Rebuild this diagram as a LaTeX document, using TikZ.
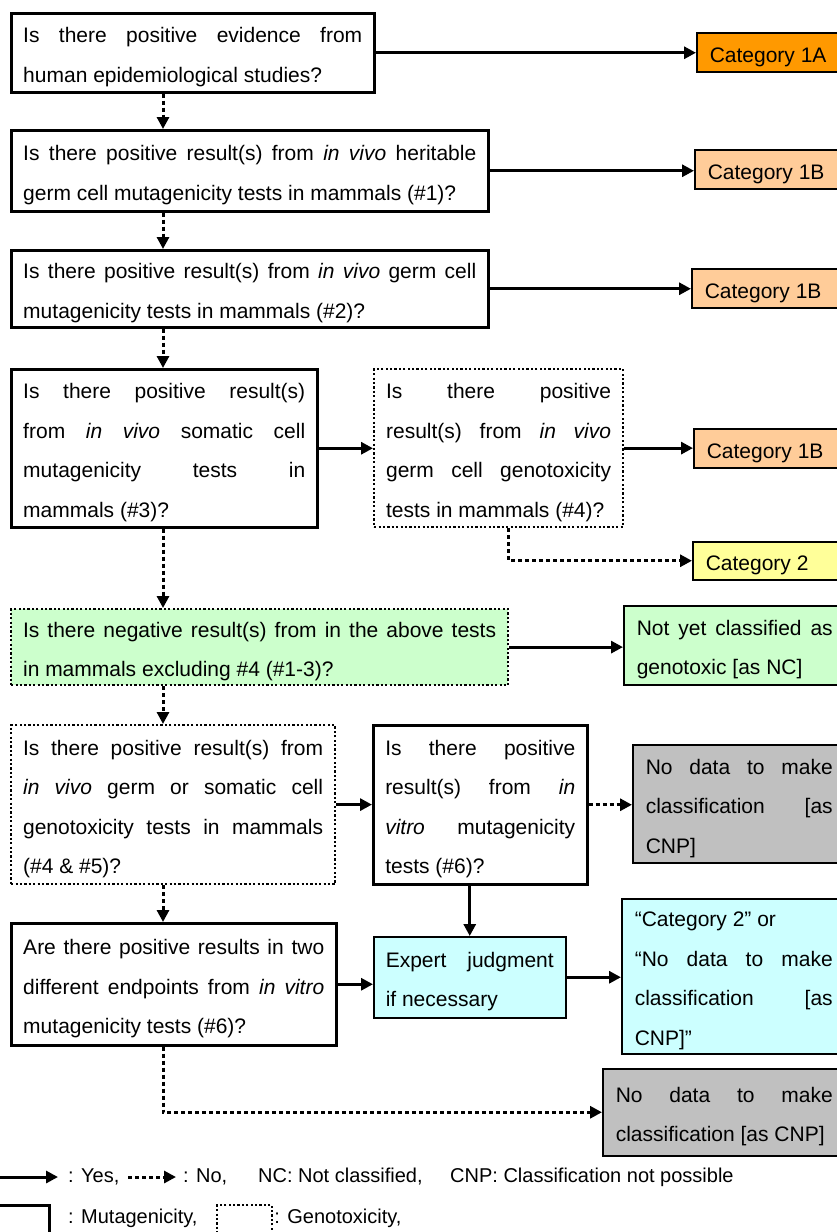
\documentclass[tikz,border=0pt]{standalone}
\usepackage{fontspec}
\setmainfont{Liberation Sans}
\usetikzlibrary{arrows.meta,positioning}
\definecolor{catone}{RGB}{255,153,0}
\definecolor{cattwo}{RGB}{255,204,153}
\definecolor{catthree}{RGB}{255,255,153}
\definecolor{ncgreen}{RGB}{204,255,204}
\definecolor{cnpgray}{RGB}{192,192,192}
\definecolor{expcyan}{RGB}{204,255,255}
\setlength{\parindent}{0pt}
\tolerance=10000
\hyphenpenalty=10000

\tikzset{
  txt/.style={font=\fontsize{21}{39.5}\selectfont},
  mutline/.style={draw, line width=2.5pt, anchor=north west},
  genline/.style={mutline, line width=2.2pt, dash pattern=on 2.2pt off 2.2pt},
  boxtext/.style={txt, inner xsep=12pt, inner ysep=0pt, align=justify,
    execute at begin node={\rule{0pt}{24pt}}},
  mutbox/.style={mutline, boxtext},
  genbox/.style={genline, boxtext},
  catbox/.style={mutline, boxtext, line width=1.5pt, inner xsep=13pt},
  legtxt/.style={font=\fontsize{20}{24}\selectfont, inner sep=0pt, anchor=west},
  yes/.style={line width=3pt, -{Triangle[length=12pt,width=12pt]}},
  no/.style={yes, dash pattern=on 4pt off 3pt},
}

\begin{document}
\begin{tikzpicture}[x=1pt, y=-1pt]
  \useasboundingbox (0,0) rectangle (837,1232);
  \coordinate (spine) at (163,0);

  % questions on the left
  \node[mutbox, text width=339pt, minimum height=79pt] (q1) at (10,12)
    {Is there positive evidence from \linebreak human epidemiological studies?};
  \node[mutbox, text width=453pt, minimum height=81pt] (q2) at (10,129)
    {Is there positive result(s) from \emph{in vivo} heritable \linebreak germ cell mutagenicity tests in mammals (\#1)?};
  \node[mutbox, text width=453pt, minimum height=77pt] (q3) at (10,249)
    {Is there positive result(s) from \emph{in vivo} germ cell \linebreak mutagenicity tests in mammals (\#2)?};
  \node[mutbox, text width=282pt, minimum height=158pt] (q4) at (10,368)
    {Is there positive result(s) \linebreak from \emph{in vivo} somatic cell \linebreak mutagenicity tests in \linebreak mammals (\#3)?};
  \node[genbox, text width=225pt, minimum height=158pt] (q5) at (373,368)
    {Is there positive \linebreak result(s) from \emph{in vivo} \linebreak germ cell genotoxicity \linebreak tests in mammals (\#4)?};
  \node[genbox, fill=ncgreen, text width=473pt, minimum height=76pt] (q6) at (10,608)
    {Is there negative result(s) from in the above tests \linebreak in mammals excluding \#4 (\#1-3)?};
  \node[genbox, text width=300pt, minimum height=159pt] (q7) at (10,724)
    {Is there positive result(s) from \linebreak \emph{in vivo} germ or somatic cell \linebreak genotoxicity tests in mammals \linebreak (\#4 \& \#5)?};
  \node[mutbox, text width=190pt, minimum height=159pt] (q8) at (372,724)
    {Is there positive \linebreak result(s) from \emph{in} \linebreak \emph{vitro} mutagenicity \linebreak tests (\#6)?};
  \node[mutbox, text width=301pt, minimum height=122pt] (q9) at (10,922)
    {Are there positive results in two \linebreak different endpoints from \emph{in vitro} \linebreak mutagenicity tests (\#6)?};
  \node[mutbox, line width=1.5pt, fill=expcyan, text width=168pt, minimum height=81pt] (exp) at (373,936)
    {Expert judgment \linebreak if necessary};

  % outcomes on the right
  \node[catbox, fill=catone, text width=123pt, minimum height=39pt] (c1a) at (696,32) {Category 1A};
  \node[catbox, fill=cattwo, text width=125pt, minimum height=39pt] (c1b) at (694,149) {Category 1B};
  \node[catbox, fill=cattwo, text width=128pt, minimum height=39pt] (c1c) at (691,268) {Category 1B};
  \node[catbox, fill=cattwo, text width=126pt, minimum height=39pt] (c1d) at (693,428) {Category 1B};
  \node[catbox, fill=catthree, text width=127pt, minimum height=38pt] (c2) at (692,541) {Category 2};
  \node[catbox, fill=ncgreen, text width=196pt, minimum height=79pt] (nc) at (623,605)
    {Not yet classified as \linebreak genotoxic [as NC]};
  \node[catbox, fill=cnpgray, text width=187pt, minimum height=118pt] (g1) at (632,744)
    {No data to make \linebreak classification [as \linebreak CNP]};
  \node[catbox, fill=expcyan, text width=198pt, minimum height=155pt] (cy) at (621,898)
    {“Category 2” or\par “No data to make \linebreak classification [as \linebreak CNP]”};
  \node[catbox, fill=cnpgray, text width=217pt, minimum height=87pt] (g2) at (602,1068)
    {No data to make \linebreak classification [as CNP]};

  % yes arrows
  \draw[yes] (q1.east) -- (q1.east -| c1a.west);
  \draw[yes] (q2.east) -- (q2.east -| c1b.west);
  \draw[yes] (q3.east) -- (q3.east -| c1c.west);
  \draw[yes] (q4.east) -- (q4.east -| q5.west);
  \draw[yes] (q5.east) -- (q5.east -| c1d.west);
  \draw[yes] (q6.east) -- (q6.east -| nc.west);
  \draw[yes] (q7.east) -- (q7.east -| q8.west);
  \draw[yes] (exp.north |- q8.south) -- (exp.north);
  \draw[yes] (q9.east) -- (q9.east -| exp.west);
  \draw[yes] (exp.east) -- (exp.east -| cy.west);

  % no arrows
  \draw[no] (q1.south -| spine) -- (q2.north -| spine);
  \draw[no] (q2.south -| spine) -- (q3.north -| spine);
  \draw[no] (q3.south -| spine) -- (q4.north -| spine);
  \draw[no] (q4.south -| spine) -- (q6.north -| spine);
  \draw[no] (q6.south -| spine) -- (q7.north -| spine);
  \draw[no] (q7.south -| spine) -- (q9.north -| spine);
  \draw[no] ([xshift=10pt]q5.south) |- (c2.west);
  \draw[no] (q8.east) -- (q8.east -| g1.west);
  \draw[no] (q9.south -| spine) |- (g2.west);

  % legend
  \coordinate (lya) at (-5,1177);
  \coordinate (lyb) at (58,1177);
  \draw[yes] (lya) -- (lyb);
  \node[legtxt] (lyes) at (68,1177) {: Yes,};
  \coordinate (lna) at (128,1177);
  \coordinate (lnb) at (176,1177);
  \draw[no] (lna) -- (lnb);
  \node[legtxt] (lno) at (183,1177) {: No,};
  \node[legtxt] (lnc) at (258,1177) {NC: Not classified,};
  \node[legtxt] (lcnp) at (450,1177) {CNP: Classification not possible};
  \node[mutline, minimum width=53pt, minimum height=40pt] (lmut) at (-5,1204) {};
  \node[legtxt] (lmuttxt) at (68,1218) {: Mutagenicity,};
  \node[genline, minimum width=55pt, minimum height=40pt] (lgen) at (216,1204) {};
  \node[legtxt, right=1pt of lgen.east |- lmuttxt] (lgentxt) {: Genotoxicity,};
\end{tikzpicture}
\end{document}
